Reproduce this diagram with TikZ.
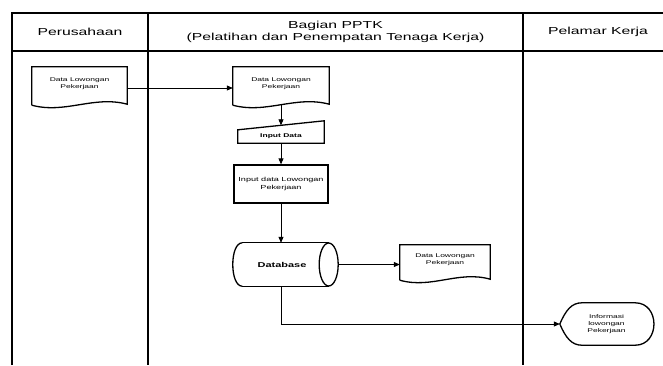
\documentclass[tikz,border=0pt]{standalone}
\usepackage{fontspec}
\setmainfont{Liberation Sans}[FakeStretch=1.55]
\usetikzlibrary{arrows.meta,calc}
\tikzset{
  frame/.style={line width=2bp},
  outline/.style={line width=1.3bp},
  conn/.style={line width=0.8bp},
  arr/.style={conn,-{Triangle[length=6bp,width=5bp]}},
  box/.style={draw=none,inner sep=0pt,align=center,font=\fontsize{5.5}{6.8}\selectfont},
  head/.style={align=center,font=\fontsize{10.2}{12}\selectfont},
}
\newcommand\docoutline[1]{%
  \draw[outline] ($(#1.south west)+(0,5)$) -- (#1.north west) -- (#1.north east)
    -- ($(#1.south east)+(0,4)$)
    .. controls ($(#1.south west)!0.65!(#1.south east)+(0,-5)$) and ($(#1.south west)!0.35!(#1.south east)+(0,14)$)
    .. ($(#1.south west)+(0,5)$);}
\begin{document}
\begin{tikzpicture}[x=1bp,y=-1bp]
\useasboundingbox (0,0) rectangle (663,365);
% frame
\draw[frame] (12,365) -- (12,13) -- (663,13);
\draw[frame] (12,51) -- (663,51);
\draw[frame] (148,13) -- (148,365);
\draw[frame] (523,13) -- (523,365);
% headers
\node[head] (h1) at (80,32) {Perusahaan};
\node[head] (h2) at (335.5,32) {Bagian PPTK\\(Pelatihan dan Penempatan Tenaga Kerja)};
\node[head] (h3) at (598,32) {Pelamar Kerja};
% documents
\node[box,minimum width=95bp,minimum height=33bp] (d1) at (79.5,83.5) {Data Lowongan\\Pekerjaan};
\docoutline{d1}
\node[box,minimum width=96bp,minimum height=33bp] (d2) at (281,83.5) {Data Lowongan\\Pekerjaan};
\docoutline{d2}
\node[box,minimum width=90bp,minimum height=30bp] (d3) at (445,260) {Data Lowongan\\Pekerjaan};
\docoutline{d3}
% manual input
\node[box,minimum width=86bp,minimum height=13bp,font=\fontsize{5.5}{6.8}\selectfont\bfseries] (mi) at (281,136.5) {Input Data};
\draw[outline] (mi.south west) -- (mi.north west) -- ($(mi.north east)+(0,-9)$) -- (mi.south east) -- cycle;
% process
\node[box,draw,outline,minimum width=94bp,minimum height=38bp,font=\fontsize{5.9}{7.2}\selectfont] (pr) at (281,184) {Input data Lowongan\\Pekerjaan};
% database
\node[box,minimum width=105bp,minimum height=43bp,font=\fontsize{7.1}{8}\selectfont\bfseries] (db) at (285.5,264.5) {\hspace*{-7bp}Database};
\draw[outline] ($(db.north west)+(9.5,0)$) -- ($(db.north east)+(-9.5,0)$);
\draw[outline] ($(db.south west)+(9.5,0)$) -- ($(db.south east)+(-9.5,0)$);
\draw[outline] ($(db.north west)+(9.5,0)$) .. controls ($(db.north west)+(-3.2,0)$) and ($(db.south west)+(-3.2,0)$) .. ($(db.south west)+(9.5,0)$);
\draw[outline] ($(db.east)+(-9.5,0)$) ellipse [x radius=9.5bp, y radius=21.5bp];
% display
\node[box,minimum width=93bp,minimum height=42bp] (disp) at (606.5,324) {Informasi\\lowongan\\Pekerjaan};
\draw[outline] (disp.west) .. controls ($(disp.west)+(6,-14)$) and ($(disp.north west)+(12,0)$) .. ($(disp.north west)+(22,0)$)
  -- ($(disp.north east)+(-18,0)$) .. controls ($(disp.north east)+(7,0)$) and ($(disp.south east)+(7,0)$) .. ($(disp.south east)+(-18,0)$)
  -- ($(disp.south west)+(22,0)$) .. controls ($(disp.south west)+(12,0)$) and ($(disp.west)+(6,14)$) .. (disp.west);
% connectors
\draw[arr] ([yshift=-4.5bp]d1.east) -- ([yshift=-4.5bp]d2.west);
\draw[arr] ([yshift=-4bp]d2.south) -- ([yshift=4.5bp]mi.north);
\draw[arr] (mi.south) -- (pr.north);
\draw[arr] (pr.south) -- (pr.south |- db.north);
\draw[arr] (db.east) -- (db.east -| d3.west);
\draw[arr] (pr.south |- db.south) |- (disp.west);
\end{tikzpicture}
\end{document}
